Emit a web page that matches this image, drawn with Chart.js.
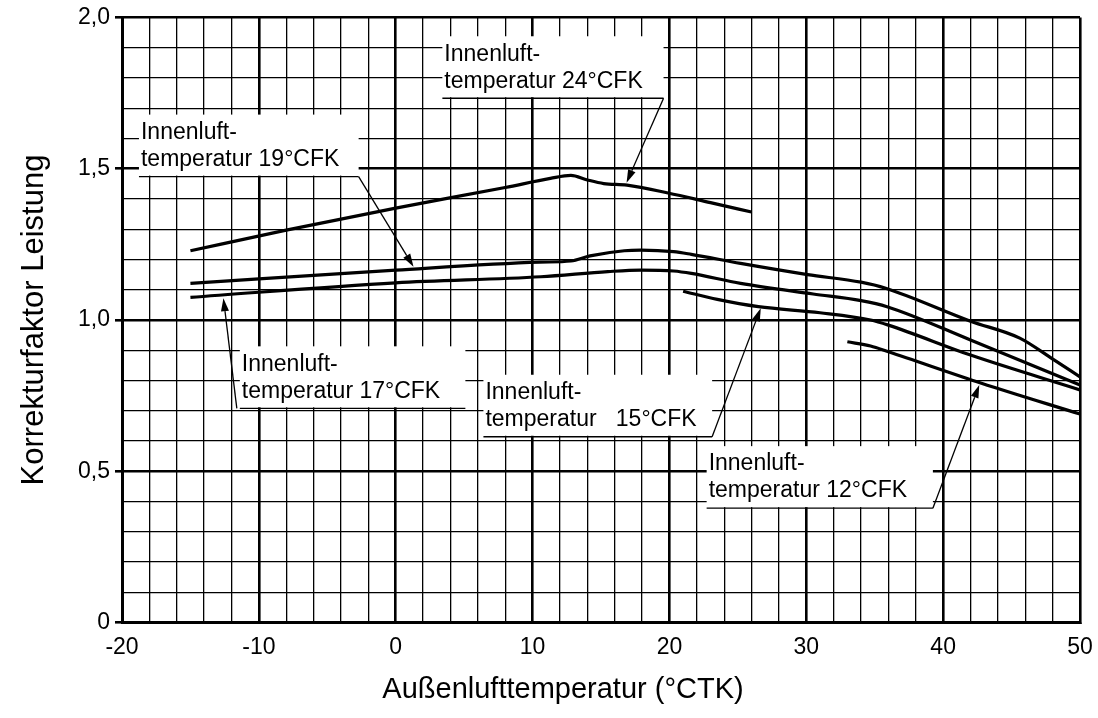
<!DOCTYPE html>
<html><head><meta charset="utf-8">
<script src="https://cdn.jsdelivr.net/npm/chart.js@4.4.1/dist/chart.umd.min.js"></script>
<style>html,body{margin:0;padding:0;background:#fff;} #wrap{width:1098px;height:718px;}</style>
</head><body><div id="wrap"><canvas id="c" width="1098" height="718"></canvas></div>
<script>
// ---- data ----
const xTickLabels = ['-20','-10','0','10','20','30','40','50'];
const yTickLabels = ['0','0,5','1,0','1,5','2,0'];
const xTitle = 'Außenlufttemperatur (°CTK)';
const yTitle = 'Korrekturfaktor Leistung';

const t24x = [-15, -8, 0, 8, 11.3, 12.8, 14, 15.2, 16.9, 19.9, 23, 26];
const t24y = [1.229, 1.297, 1.370, 1.438, 1.468, 1.478, 1.463, 1.451, 1.446, 1.420, 1.388, 1.357];

const t19x = [-15, 0, 10.5, 12.8, 14.2, 16.7, 17.9, 20.3, 21.6, 25.2, 30.1, 34.0, 35.8, 42.0, 45.6, 48.1, 50];
const t19y = [1.121, 1.165, 1.191, 1.195, 1.212, 1.229, 1.231, 1.226, 1.217, 1.187, 1.150, 1.125, 1.105, 0.996, 0.940, 0.868, 0.812];

const t17x = [-15, 0, 10.6, 15.5, 17.9, 20.3, 21.6, 25.2, 30.5, 34.0, 35.9, 42.0, 50];
const t17y = [1.075, 1.123, 1.143, 1.160, 1.165, 1.162, 1.154, 1.121, 1.086, 1.064, 1.044, 0.934, 0.785];

const t15x = [21, 23.5, 26.5, 31, 34.7, 36, 42, 50];
const t15y = [1.095, 1.068, 1.044, 1.024, 1.000, 0.983, 0.884, 0.769];

const t12x = [33, 34.7, 36, 42.8, 50];
const t12y = [0.928, 0.914, 0.895, 0.791, 0.689];

const seriesNames = ['Innenlufttemperatur 24°CFK','Innenlufttemperatur 19°CFK','Innenlufttemperatur 17°CFK','Innenlufttemperatur 15°CFK','Innenlufttemperatur 12°CFK'];
const annLine1 = ['Innenluft-','Innenluft-','Innenluft-','Innenluft-','Innenluft-'];
const annLine2 = ['temperatur 24°CFK','temperatur 19°CFK','temperatur 17°CFK','temperatur   15°CFK','temperatur 12°CFK'];

// ---- annotation placement (data coordinates) ----
const annLayout = [
  {x1: 3.19,  x2: 19.57, y: 1.733, tx: 16.87, ty: 1.454, from: 'right'},
  {x1: -18.98,x2: -2.71, y: 1.474, tx: 1.30,  ty: 1.176, from: 'right'},
  {x1: -11.61,x2: 5.09,  y: 0.708, tx: -12.59,ty: 1.072, from: 'left'},
  {x1: 6.19,  x2: 23.12, y: 0.614, tx: 26.67, ty: 1.039, from: 'right'},
  {x1: 22.5,  x2: 39.25, y: 0.378, tx: 42.64, ty: 0.785, from: 'right'}
];

const FONT = '"Liberation Sans", Arial, Helvetica, sans-serif';
function pts(xs, ys){ return xs.map((x,i)=>({x:x, y:ys[i]})); }
const allX = [t24x,t19x,t17x,t15x,t12x];
const allY = [t24y,t19y,t17y,t15y,t12y];

const datasets = allX.map((xs,i)=>({
  label: seriesNames[i],
  data: pts(xs, allY[i]),
  borderColor: '#000',
  borderWidth: 3.2,
  pointRadius: 0,
  fill: false,
  cubicInterpolationMode: 'monotone'
}));

function isMajX(v){ return Math.abs(v/10 - Math.round(v/10)) < 1e-6; }
function isMajY(v){ return Math.abs(v*2 - Math.round(v*2)) < 1e-6; }

const annPlugin = {
  id: 'ann',
  beforeDatasetsDraw(chart){
    const ctx = chart.ctx, xs = chart.scales.x, ys = chart.scales.y;
    ctx.save();
    annLayout.forEach((a)=>{
      const l = xs.getPixelForValue(a.x1), r = xs.getPixelForValue(a.x2), b = ys.getPixelForValue(a.y);
      ctx.fillStyle = '#fff';
      ctx.fillRect(l + 3, b - 62, r - l - 3, 61);
    });
    ctx.restore();
  },
  afterDatasetsDraw(chart){
    const ctx = chart.ctx, xs = chart.scales.x, ys = chart.scales.y;
    ctx.save();
    annLayout.forEach((a,i)=>{
      const l = xs.getPixelForValue(a.x1), r = xs.getPixelForValue(a.x2), b = ys.getPixelForValue(a.y);
      ctx.fillStyle = '#000';
      ctx.font = '23px ' + FONT;
      ctx.textBaseline = 'middle';
      ctx.textAlign = 'left';
      ctx.fillText(annLine1[i], l + 5, b - 44);
      ctx.fillText(annLine2[i], l + 5, b - 17);
      // underline
      ctx.strokeStyle = '#000';
      ctx.lineWidth = 1.3;
      ctx.beginPath();
      ctx.moveTo(l + 3, b); ctx.lineTo(r, b); ctx.stroke();
      // leader
      const sx = a.from === 'left' ? l : r;
      const tx = xs.getPixelForValue(a.tx), ty = ys.getPixelForValue(a.ty);
      const ang = Math.atan2(ty - b, tx - sx);
      const L = 13, W = 4;
      const bx = tx - L*Math.cos(ang), by = ty - L*Math.sin(ang);
      ctx.beginPath(); ctx.moveTo(sx, b); ctx.lineTo(bx, by); ctx.stroke();
      ctx.beginPath();
      ctx.moveTo(tx, ty);
      ctx.lineTo(bx + W*Math.sin(ang), by - W*Math.cos(ang));
      ctx.lineTo(bx - W*Math.sin(ang), by + W*Math.cos(ang));
      ctx.closePath(); ctx.fill();
    });
    // x axis title
    ctx.font = '29px ' + FONT;
    ctx.textAlign = 'center';
    ctx.textBaseline = 'middle';
    ctx.fillStyle = '#000';
    ctx.fillText(xTitle, 563, 690);
    ctx.restore();
  }
};

new Chart(document.getElementById('c'), {
  type: 'line',
  data: { datasets },
  options: {
    responsive: false,
    animation: false,
    devicePixelRatio: 1,
    layout: { padding: { top: 17.5, right: 18, left: 0, bottom: 0 } },
    plugins: { legend: { display: false }, tooltip: { enabled: false } },
    scales: {
      x: {
        type: 'linear', min: -20, max: 50,
        afterFit(s){ s.height = 95.5; s.paddingRight = 0; s.paddingLeft = 0; },
        ticks: {
          stepSize: 2, autoSkip: false, maxRotation: 0, padding: 11,
          color: '#000', font: { family: FONT, size: 23 },
          callback(v){ if (!isMajX(v)) return ''; const k = Math.round((v + 20)/10); return xTickLabels[k]; }
        },
        grid: {
          color: '#000',
          lineWidth: (c)=> (c.tick && isMajX(c.tick.value)) ? 2.6 : 1.3,
          tickLength: 0
        },
        border: { display: true, color: '#000', width: 3 }
      },
      y: {
        type: 'linear', min: 0, max: 2,
        afterFit(s){ s.width = 122; s.paddingTop = 0; s.paddingBottom = 0; },
        ticks: {
          stepSize: 0.1, autoSkip: false, padding: 5,
          color: '#000', font: { family: FONT, size: 23 },
          callback(v){ if (!isMajY(v)) return ''; return yTickLabels[Math.round(v*2)]; }
        },
        grid: {
          color: '#000',
          lineWidth: (c)=> (c.tick && isMajY(c.tick.value)) ? 2.6 : 1.3,
          tickLength: 7,
          tickColor: (c)=> (c.tick && isMajY(c.tick.value)) ? '#000' : 'rgba(0,0,0,0)',
          tickWidth: 2.6
        },
        border: { display: true, color: '#000', width: 3 },
        title: { display: true, text: yTitle, color: '#000', font: { family: FONT, size: 31 }, padding: { top: 16, bottom: 0 } }
      }
    }
  },
  plugins: [annPlugin]
});
</script>
</body></html>
